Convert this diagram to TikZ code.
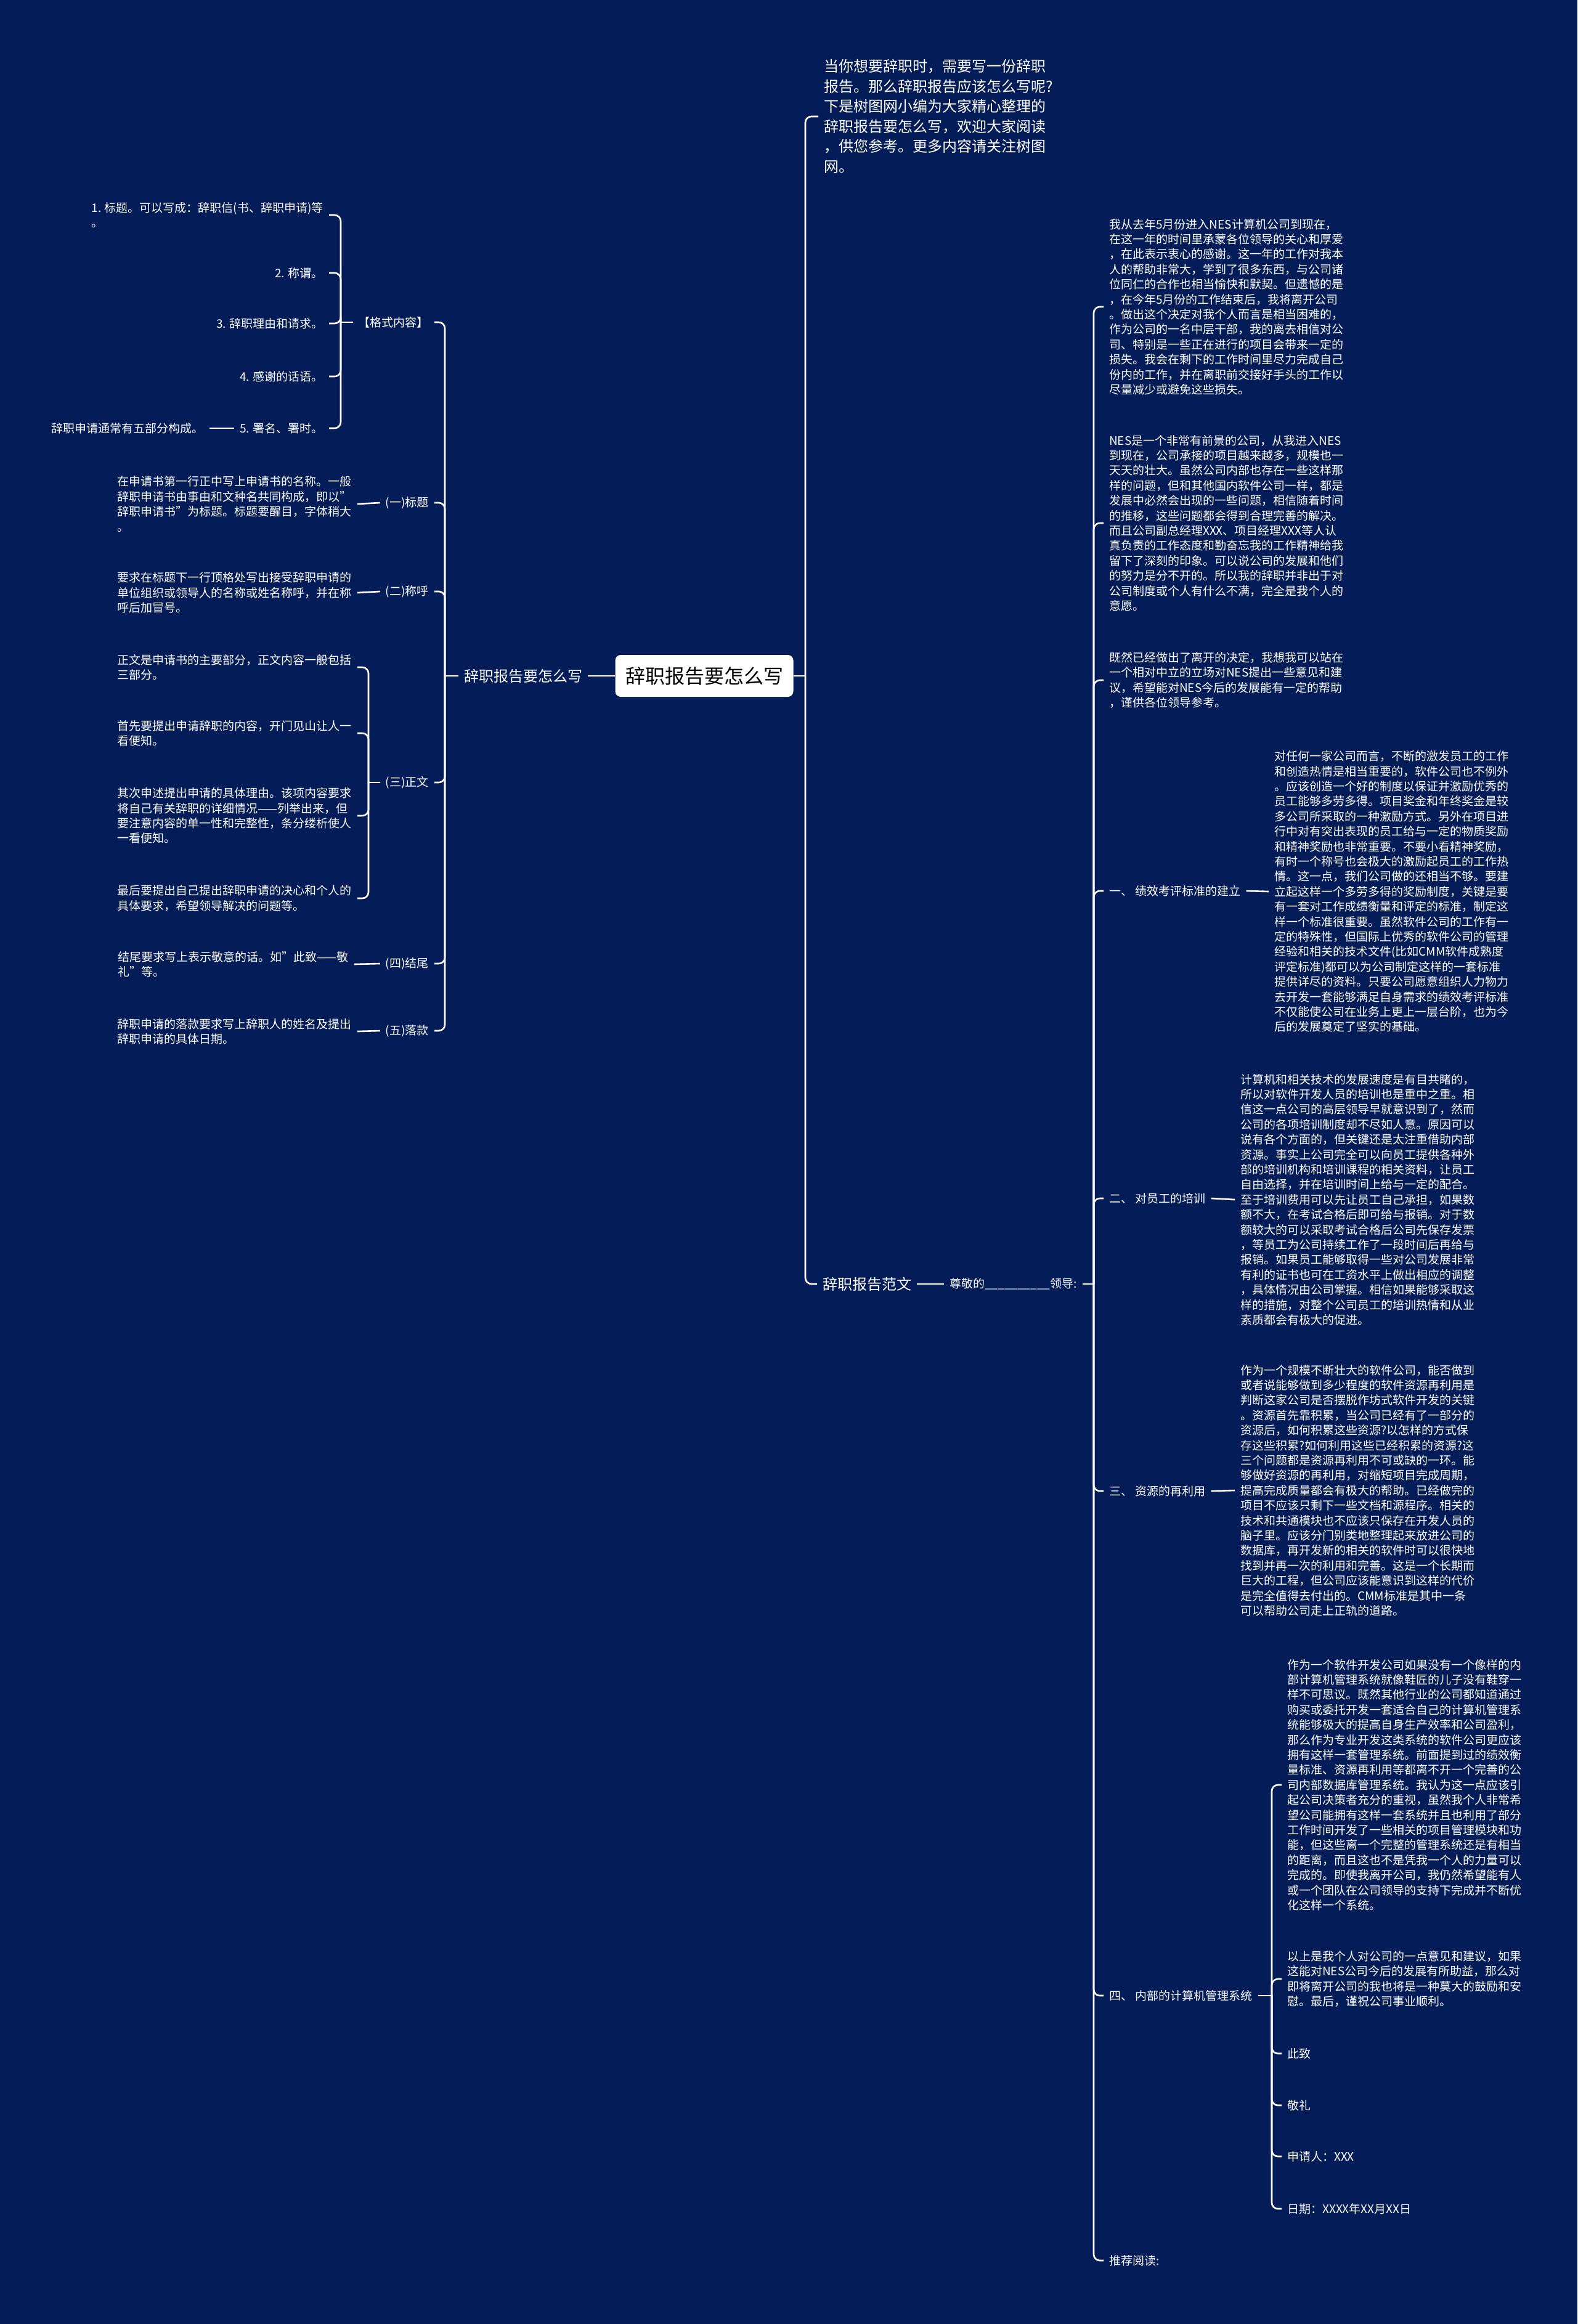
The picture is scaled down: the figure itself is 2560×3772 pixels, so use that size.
\documentclass[tikz,border=0pt]{standalone}
\usepackage{fontspec}
\setmainfont{Noto Sans CJK SC}
\definecolor{bg}{RGB}{4,28,88}
\tikzset{
  conn/.style={draw=white, line width=2.6pt, rounded corners=10pt},
  txt/.style={text=white, font=\fontsize{19}{24.4}\selectfont, align=left, inner xsep=9pt, inner ysep=2pt},
  lbl/.style={text=white, font=\fontsize{24}{30}\selectfont, inner xsep=9pt, inner ysep=2pt},
  introtxt/.style={text=white, font=\fontsize{24}{32.5}\selectfont, align=left, inner xsep=9pt, inner ysep=2pt},
  rootbox/.style={fill=white, rounded corners=9pt, text=black, font=\fontsize{32}{38}\selectfont, minimum width=289pt, minimum height=68pt, inner sep=0pt}
}
\begin{document}
\begin{tikzpicture}[x=1pt,y=-1pt]
\fill[bg] (0,0) rectangle (2560,3772);
\useasboundingbox (0,0) rectangle (2560,3772);

% root
\node[rootbox] (root) at (1143,1097) {辞职报告要怎么写};
\coordinate (jR) at (1307,1097);
\coordinate (jL) at (722,1097);
\draw[conn] (root.east) -- (jR);

% ---------------- right side ----------------
\node[introtxt, anchor=west] (intro) at (1328,189) {当你想要辞职时，需要写一份辞职\\报告。那么辞职报告应该怎么写呢?\\下是树图网小编为大家精心整理的\\辞职报告要怎么写，欢迎大家阅读\\，供您参考。更多内容请关注树图\\网。};
\node[lbl, anchor=west] (fanwen) at (1326,2084) {辞职报告范文};
\draw[conn] (jR) |- (intro.west);
\draw[conn] (jR) |- (fanwen.west);

\node[txt, anchor=west] (zunjing) at (1532,2084) {尊敬的\_\_\_\_\_\_\_\_\_\_领导:};
\draw[conn] (fanwen.east) -- (zunjing.west);
\coordinate (jF) at (1775,2084);
\draw[conn] (zunjing.east) -- (jF);

\node[txt, anchor=west] (p1) at (1791,498) {我从去年5月份进入NES计算机公司到现在，\\在这一年的时间里承蒙各位领导的关心和厚爱\\，在此表示衷心的感谢。这一年的工作对我本\\人的帮助非常大，学到了很多东西，与公司诸\\位同仁的合作也相当愉快和默契。但遗憾的是\\，在今年5月份的工作结束后，我将离开公司\\。做出这个决定对我个人而言是相当困难的，\\作为公司的一名中层干部，我的离去相信对公\\司、特别是一些正在进行的项目会带来一定的\\损失。我会在剩下的工作时间里尽力完成自己\\份内的工作，并在离职前交接好手头的工作以\\尽量减少或避免这些损失。};

\node[txt, anchor=west] (p2) at (1791,849) {NES是一个非常有前景的公司，从我进入NES\\到现在，公司承接的项目越来越多，规模也一\\天天的壮大。虽然公司内部也存在一些这样那\\样的问题，但和其他国内软件公司一样，都是\\发展中必然会出现的一些问题，相信随着时间\\的推移，这些问题都会得到合理完善的解决。\\而且公司副总经理XXX、项目经理XXX等人认\\真负责的工作态度和勤奋忘我的工作精神给我\\留下了深刻的印象。可以说公司的发展和他们\\的努力是分不开的。所以我的辞职并非出于对\\公司制度或个人有什么不满，完全是我个人的\\意愿。};

\node[txt, anchor=west] (p3) at (1791,1104) {既然已经做出了离开的决定，我想我可以站在\\一个相对中立的立场对NES提出一些意见和建\\议，希望能对NES今后的发展能有一定的帮助\\，谨供各位领导参考。};

\node[txt, anchor=west] (l1) at (1791,1446) {一、 绩效考评标准的建立};
\node[txt, anchor=west] (p4) at (2059,1447) {对任何一家公司而言，不断的激发员工的工作\\和创造热情是相当重要的，软件公司也不例外\\。应该创造一个好的制度以保证并激励优秀的\\员工能够多劳多得。项目奖金和年终奖金是较\\多公司所采取的一种激励方式。另外在项目进\\行中对有突出表现的员工给与一定的物质奖励\\和精神奖励也非常重要。不要小看精神奖励，\\有时一个称号也会极大的激励起员工的工作热\\情。这一点，我们公司做的还相当不够。要建\\立起这样一个多劳多得的奖励制度，关键是要\\有一套对工作成绩衡量和评定的标准，制定这\\样一个标准很重要。虽然软件公司的工作有一\\定的特殊性，但国际上优秀的软件公司的管理\\经验和相关的技术文件(比如CMM软件成熟度\\评定标准)都可以为公司制定这样的一套标准\\提供详尽的资料。只要公司愿意组织人力物力\\去开发一套能够满足自身需求的绩效考评标准\\不仅能使公司在业务上更上一层台阶，也为今\\后的发展奠定了坚实的基础。};
\draw[conn] (l1.east) -- (p4.west);

\node[txt, anchor=west] (l2) at (1791,1945) {二、 对员工的培训};
\node[txt, anchor=west] (p5) at (2004,1947) {计算机和相关技术的发展速度是有目共睹的，\\所以对软件开发人员的培训也是重中之重。相\\信这一点公司的高层领导早就意识到了，然而\\公司的各项培训制度却不尽如人意。原因可以\\说有各个方面的，但关键还是太注重借助内部\\资源。事实上公司完全可以向员工提供各种外\\部的培训机构和培训课程的相关资料，让员工\\自由选择，并在培训时间上给与一定的配合。\\至于培训费用可以先让员工自己承担，如果数\\额不大，在考试合格后即可给与报销。对于数\\额较大的可以采取考试合格后公司先保存发票\\，等员工为公司持续工作了一段时间后再给与\\报销。如果员工能够取得一些对公司发展非常\\有利的证书也可在工资水平上做出相应的调整\\，具体情况由公司掌握。相信如果能够采取这\\样的措施，对整个公司员工的培训热情和从业\\素质都会有极大的促进。};
\draw[conn] (l2.east) -- (p5.west);

\node[txt, anchor=west] (l3) at (1791,2420) {三、 资源的再利用};
\node[txt, anchor=west] (p6) at (2004,2419) {作为一个规模不断壮大的软件公司，能否做到\\或者说能够做到多少程度的软件资源再利用是\\判断这家公司是否摆脱作坊式软件开发的关键\\。资源首先靠积累，当公司已经有了一部分的\\资源后，如何积累这些资源?以怎样的方式保\\存这些积累?如何利用这些已经积累的资源?这\\三个问题都是资源再利用不可或缺的一环。能\\够做好资源的再利用，对缩短项目完成周期，\\提高完成质量都会有极大的帮助。已经做完的\\项目不应该只剩下一些文档和源程序。相关的\\技术和共通模块也不应该只保存在开发人员的\\脑子里。应该分门别类地整理起来放进公司的\\数据库，再开发新的相关的软件时可以很快地\\找到并再一次的利用和完善。这是一个长期而\\巨大的工程，但公司应该能意识到这样的代价\\是完全值得去付出的。CMM标准是其中一条\\可以帮助公司走上正轨的道路。};
\draw[conn] (l3.east) -- (p6.west);

\node[txt, anchor=west] (l4) at (1791,3239) {四、 内部的计算机管理系统};
\coordinate (jS) at (2064,3239);
\draw[conn] (l4.east) -- (jS);
\node[txt, anchor=west] (p7) at (2080,2897) {作为一个软件开发公司如果没有一个像样的内\\部计算机管理系统就像鞋匠的儿子没有鞋穿一\\样不可思议。既然其他行业的公司都知道通过\\购买或委托开发一套适合自己的计算机管理系\\统能够极大的提高自身生产效率和公司盈利，\\那么作为专业开发这类系统的软件公司更应该\\拥有这样一套管理系统。前面提到过的绩效衡\\量标准、资源再利用等都离不开一个完善的公\\司内部数据库管理系统。我认为这一点应该引\\起公司决策者充分的重视，虽然我个人非常希\\望公司能拥有这样一套系统并且也利用了部分\\工作时间开发了一些相关的项目管理模块和功\\能，但这些离一个完整的管理系统还是有相当\\的距离，而且这也不是凭我一个人的力量可以\\完成的。即使我离开公司，我仍然希望能有人\\或一个团队在公司领导的支持下完成并不断优\\化这样一个系统。};
\node[txt, anchor=west] (p8) at (2080,3212) {以上是我个人对公司的一点意见和建议，如果\\这能对NES公司今后的发展有所助益，那么对\\即将离开公司的我也将是一种莫大的鼓励和安\\慰。最后，谨祝公司事业顺利。};
\node[txt, anchor=west] (c1) at (2080,3333) {此致};
\node[txt, anchor=west] (c2) at (2080,3417) {敬礼};
\node[txt, anchor=west] (c3) at (2080,3500) {申请人：XXX};
\node[txt, anchor=west] (c4) at (2080,3585) {日期：XXXX年XX月XX日};
\foreach \n in {p7,p8,c1,c2,c3,c4}{\draw[conn] (jS) |- (\n.west);}

\node[txt, anchor=west] (tj) at (1791,3669) {推荐阅读:};

\foreach \n in {p1,p2,p3,l1,l2,l3,l4,tj}{\draw[conn] (jF) |- (\n.west);}

% ---------------- left side ----------------
\node[lbl, anchor=west] (lab1) at (744,1097) {辞职报告要怎么写};
\draw[conn] (root.west) -- (lab1.east);
\draw[conn] (lab1.west) -- (jL);

\node[txt, anchor=east] (geshi) at (705,523) {【格式内容】};
\coordinate (jG) at (553,523);
\draw[conn] (geshi.west) -- (jG);
\node[txt, anchor=east] (g1) at (534,349) {1. 标题。可以写成：辞职信(书、辞职申请)等\\。};
\node[txt, anchor=east] (g2) at (534,443) {2. 称谓。};
\node[txt, anchor=east] (g3) at (534,525) {3. 辞职理由和请求。};
\node[txt, anchor=east] (g4) at (534,611) {4. 感谢的话语。};
\node[txt, anchor=east] (g5) at (534,695) {5. 署名、署时。};
\node[txt, anchor=east] (gnote) at (340,695) {辞职申请通常有五部分构成。};
\draw[conn] (g5.west) -- (gnote.east);
\foreach \n in {g1,g2,g3,g4,g5}{\draw[conn] (jG) |- (\n.east);}

\node[txt, anchor=east] (bt) at (705,816) {(一)标题};
\node[txt, anchor=east] (bt1) at (580,818) {在申请书第一行正中写上申请书的名称。一般\\辞职申请书由事由和文种名共同构成，即以"\\辞职申请书"为标题。标题要醒目，字体稍大\\。};
\draw[conn] (bt1.east) -- (bt.west);

\node[txt, anchor=east] (ch) at (705,960) {(二)称呼};
\node[txt, anchor=east] (ch1) at (580,962) {要求在标题下一行顶格处写出接受辞职申请的\\单位组织或领导人的名称或姓名称呼，并在称\\呼后加冒号。};
\draw[conn] (ch1.east) -- (ch.west);

\node[txt, anchor=east] (zw) at (705,1270) {(三)正文};
\coordinate (jZ) at (598,1270);
\draw[conn] (zw.west) -- (jZ);
\node[txt, anchor=east] (z1) at (580,1083) {正文是申请书的主要部分，正文内容一般包括\\三部分。};
\node[txt, anchor=east] (z2) at (580,1190) {首先要提出申请辞职的内容，开门见山让人一\\看便知。};
\node[txt, anchor=east] (z3) at (580,1324) {其次申述提出申请的具体理由。该项内容要求\\将自己有关辞职的详细情况——列举出来，但\\要注意内容的单一性和完整性，条分缕析使人\\一看便知。};
\node[txt, anchor=east] (z4) at (580,1458) {最后要提出自己提出辞职申请的决心和个人的\\具体要求，希望领导解决的问题等。};
\foreach \n in {z1,z2,z3,z4}{\draw[conn] (jZ) |- (\n.east);}

\node[txt, anchor=east] (jw) at (705,1564) {(四)结尾};
\node[txt, anchor=east] (jw1) at (575,1565) {结尾要求写上表示敬意的话。如"此致——敬\\礼"等。};
\draw[conn] (jw1.east) -- (jw.west);

\node[txt, anchor=east] (lk) at (705,1673) {(五)落款};
\node[txt, anchor=east] (lk1) at (580,1674) {辞职申请的落款要求写上辞职人的姓名及提出\\辞职申请的具体日期。};
\draw[conn] (lk1.east) -- (lk.west);

\foreach \n in {geshi,bt,ch,zw,jw,lk}{\draw[conn] (jL) |- (\n.east);}
\end{tikzpicture}
\end{document}
